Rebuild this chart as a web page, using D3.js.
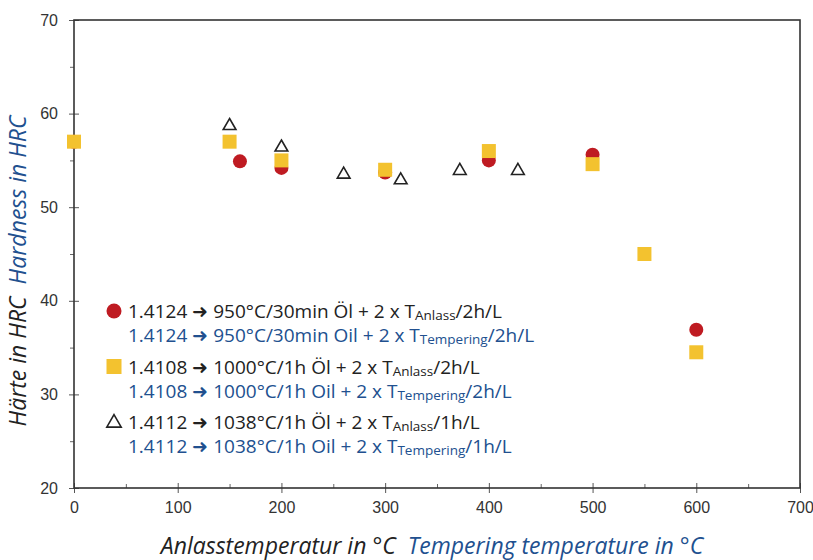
<!DOCTYPE html>
<html>
<head>
<meta charset="utf-8">
<script src="https://cdn.jsdelivr.net/npm/d3@7"></script>
<style>
  body { margin: 0; background: #fff; }
  svg { display: block; }
</style>
</head>
<body>
<div id="chart"></div>
<script>
// tempering temperature (°C) and hardness (HRC) per steel grade
const temp4124 = [ 0, 160, 200, 300, 400, 500, 600 ];
const hrc4124 = [ 57, 54.9, 54.2, 53.7, 55.0, 55.6, 36.9 ];

const temp4108 = [ 0, 150, 200, 300, 400, 500, 550, 600 ];
const hrc4108 = [ 57, 57, 55.0, 54.0, 56.0, 54.6, 45.0, 34.5 ];

const temp4112 = [ 150, 200, 260, 315, 372, 428 ];
const hrc4112 = [ 58.8, 56.5, 53.6, 53.0, 54.0, 54.0 ];

const xTicks = [ 0, 100, 200, 300, 400, 500, 600, 700 ];
const yTicks = [ 20, 30, 40, 50, 60, 70 ];

const legendDe = [
	[ '1.4124 ➜ 950°C/30min Öl + 2 x T', 'Anlass', '/2h/L' ],
	[ '1.4108 ➜ 1000°C/1h Öl + 2 x T', 'Anlass', '/2h/L' ],
	[ '1.4112 ➜ 1038°C/1h Öl + 2 x T', 'Anlass', '/1h/L' ],
];
const legendEn = [
	[ '1.4124 ➜ 950°C/30min Oil + 2 x T', 'Tempering', '/2h/L' ],
	[ '1.4108 ➜ 1000°C/1h Oil + 2 x T', 'Tempering', '/2h/L' ],
	[ '1.4112 ➜ 1038°C/1h Oil + 2 x T', 'Tempering', '/1h/L' ],
];

const RED = '#bf1b22';
const YELLOW = '#f3c22f';
const BLUE = '#21508f';
const DARK = '#222';

const width = 813;
const height = 560;
const margin = { top: 20, right: 13, bottom: 72, left: 74 };
const innerW = width - margin.left - margin.right;
const innerH = height - margin.top - margin.bottom;

const svg = d3.select( '#chart' )
	.append( 'svg' )
	.attr( 'width', width )
	.attr( 'height', height );

const x = d3.scaleLinear().domain( [ 0, 700 ] ).range( [ 0, innerW ] );
const y = d3.scaleLinear().domain( [ 20, 70 ] ).range( [ innerH, 0 ] );

const g = svg.append( 'g' )
	.attr( 'transform', `translate(${ margin.left },${ margin.top })` );

// minor ticks
g.append( 'g' )
	.attr( 'transform', `translate(0,${ innerH })` )
	.call( d3.axisTop( x ).tickValues( d3.range( 50, 700, 100 ) ).tickSize( 4 ).tickFormat( '' ) )
	.call( ( a ) => a.select( '.domain' ).remove() )
	.selectAll( 'line' ).attr( 'stroke', '#666' );

g.append( 'g' )
	.call( d3.axisLeft( y ).tickValues( d3.range( 25, 70, 10 ) ).tickSize( 4 ).tickFormat( '' ) )
	.call( ( a ) => a.select( '.domain' ).remove() )
	.selectAll( 'line' ).attr( 'stroke', '#666' );

// major ticks
const xAxis = g.append( 'g' )
	.attr( 'transform', `translate(0,${ innerH })` )
	.call( d3.axisBottom( x ).tickValues( xTicks ).tickSize( 5 ).tickPadding( 9 ) );
xAxis.select( '.domain' ).remove();
xAxis.selectAll( 'line' ).attr( 'stroke', '#555' ).attr( 'y1', -5 );
xAxis.selectAll( 'text' )
	.style( 'font-family', '"Liberation Sans", Arial, sans-serif' )
	.style( 'font-size', '16px' )
	.attr( 'fill', '#333' );

const yAxis = g.append( 'g' )
	.call( d3.axisLeft( y ).tickValues( yTicks ).tickSize( 5 ).tickPadding( 11 ) );
yAxis.select( '.domain' ).remove();
yAxis.selectAll( 'line' ).attr( 'stroke', '#555' ).attr( 'x1', 5 );
yAxis.selectAll( 'text' )
	.style( 'font-family', '"Liberation Sans", Arial, sans-serif' )
	.style( 'font-size', '16px' )
	.attr( 'fill', '#333' );

// frame
g.append( 'rect' )
	.attr( 'width', innerW )
	.attr( 'height', innerH )
	.attr( 'fill', 'none' )
	.attr( 'stroke', '#333' )
	.attr( 'stroke-width', 1.6 );

// data
const pts = ( xs, ys ) => xs.map( ( t, i ) => ( { t, h: ys[ i ] } ) );
const sq = 14;
const triangle = d3.symbol().type( d3.symbolTriangle ).size( 70 );

g.append( 'g' ).selectAll( 'circle' )
	.data( pts( temp4124, hrc4124 ) )
	.join( 'circle' )
	.attr( 'cx', ( d ) => x( d.t ) )
	.attr( 'cy', ( d ) => y( d.h ) )
	.attr( 'r', 7 )
	.attr( 'fill', RED );

g.append( 'g' ).selectAll( 'rect' )
	.data( pts( temp4108, hrc4108 ) )
	.join( 'rect' )
	.attr( 'x', ( d ) => x( d.t ) - sq / 2 )
	.attr( 'y', ( d ) => y( d.h ) - sq / 2 )
	.attr( 'width', sq )
	.attr( 'height', sq )
	.attr( 'fill', YELLOW );

g.append( 'g' ).selectAll( 'path' )
	.data( pts( temp4112, hrc4112 ) )
	.join( 'path' )
	.attr( 'd', triangle )
	.attr( 'transform', ( d ) => `translate(${ x( d.t ) },${ y( d.h ) + 1 })` )
	.attr( 'fill', '#fff' )
	.attr( 'stroke', DARK )
	.attr( 'stroke-width', 1.6 );

// legend
const legendFont = '"Open Sans", Lato, sans-serif';
const legend = svg.append( 'g' ).attr( 'transform', 'translate(114,311)' );
const rowGap = 55.5;
const markers = [ 'circle', 'square', 'triangle' ];

markers.forEach( ( m, i ) => {
	const row = legend.append( 'g' ).attr( 'transform', `translate(0,${ i * rowGap })` );
	if ( m === 'circle' ) {
		row.append( 'circle' ).attr( 'r', 7.5 ).attr( 'fill', RED );
	} else if ( m === 'square' ) {
		row.append( 'rect' ).attr( 'x', -7.5 ).attr( 'y', -7.5 )
			.attr( 'width', 15 ).attr( 'height', 15 ).attr( 'fill', YELLOW );
	} else {
		row.append( 'path' ).attr( 'd', d3.symbol().type( d3.symbolTriangle ).size( 90 ) )
			.attr( 'transform', 'translate(0,1)' )
			.attr( 'fill', 'none' ).attr( 'stroke', DARK ).attr( 'stroke-width', 1.6 );
	}

	[ [ legendDe[ i ], DARK, 7 ], [ legendEn[ i ], BLUE, 31 ] ].forEach( ( [ parts, col, dy ] ) => {
		const t = row.append( 'text' )
			.attr( 'x', 14 )
			.attr( 'y', dy )
			.attr( 'fill', col )
			.style( 'font-family', legendFont )
			.style( 'font-size', '19px' );
		t.append( 'tspan' ).text( parts[ 0 ] );
		t.append( 'tspan' ).attr( 'dy', 2 ).style( 'font-size', '13.5px' ).text( parts[ 1 ] );
		t.append( 'tspan' ).attr( 'dy', -2 ).text( parts[ 2 ] );
	} );
} );

// axis titles
const titleFont = '"Open Sans", Lato, sans-serif';
const xTitle = svg.append( 'text' )
	.attr( 'x', 432 )
	.attr( 'y', 554 )
	.attr( 'text-anchor', 'middle' )
	.style( 'font-family', titleFont )
	.style( 'font-style', 'italic' )
	.style( 'font-size', '23px' );
xTitle.append( 'tspan' ).attr( 'fill', DARK ).text( 'Anlasstemperatur in °C' );
xTitle.append( 'tspan' ).attr( 'fill', BLUE ).attr( 'dx', 12 ).text( 'Tempering temperature in °C' );

const yTitle = svg.append( 'text' )
	.attr( 'transform', 'translate(26,271) rotate(-90)' )
	.attr( 'text-anchor', 'middle' )
	.style( 'font-family', titleFont )
	.style( 'font-style', 'italic' )
	.style( 'font-size', '23px' );
yTitle.append( 'tspan' ).attr( 'fill', DARK ).text( 'Härte in HRC' );
yTitle.append( 'tspan' ).attr( 'fill', BLUE ).attr( 'dx', 12 ).text( 'Hardness in HRC' );
</script>
</body>
</html>
